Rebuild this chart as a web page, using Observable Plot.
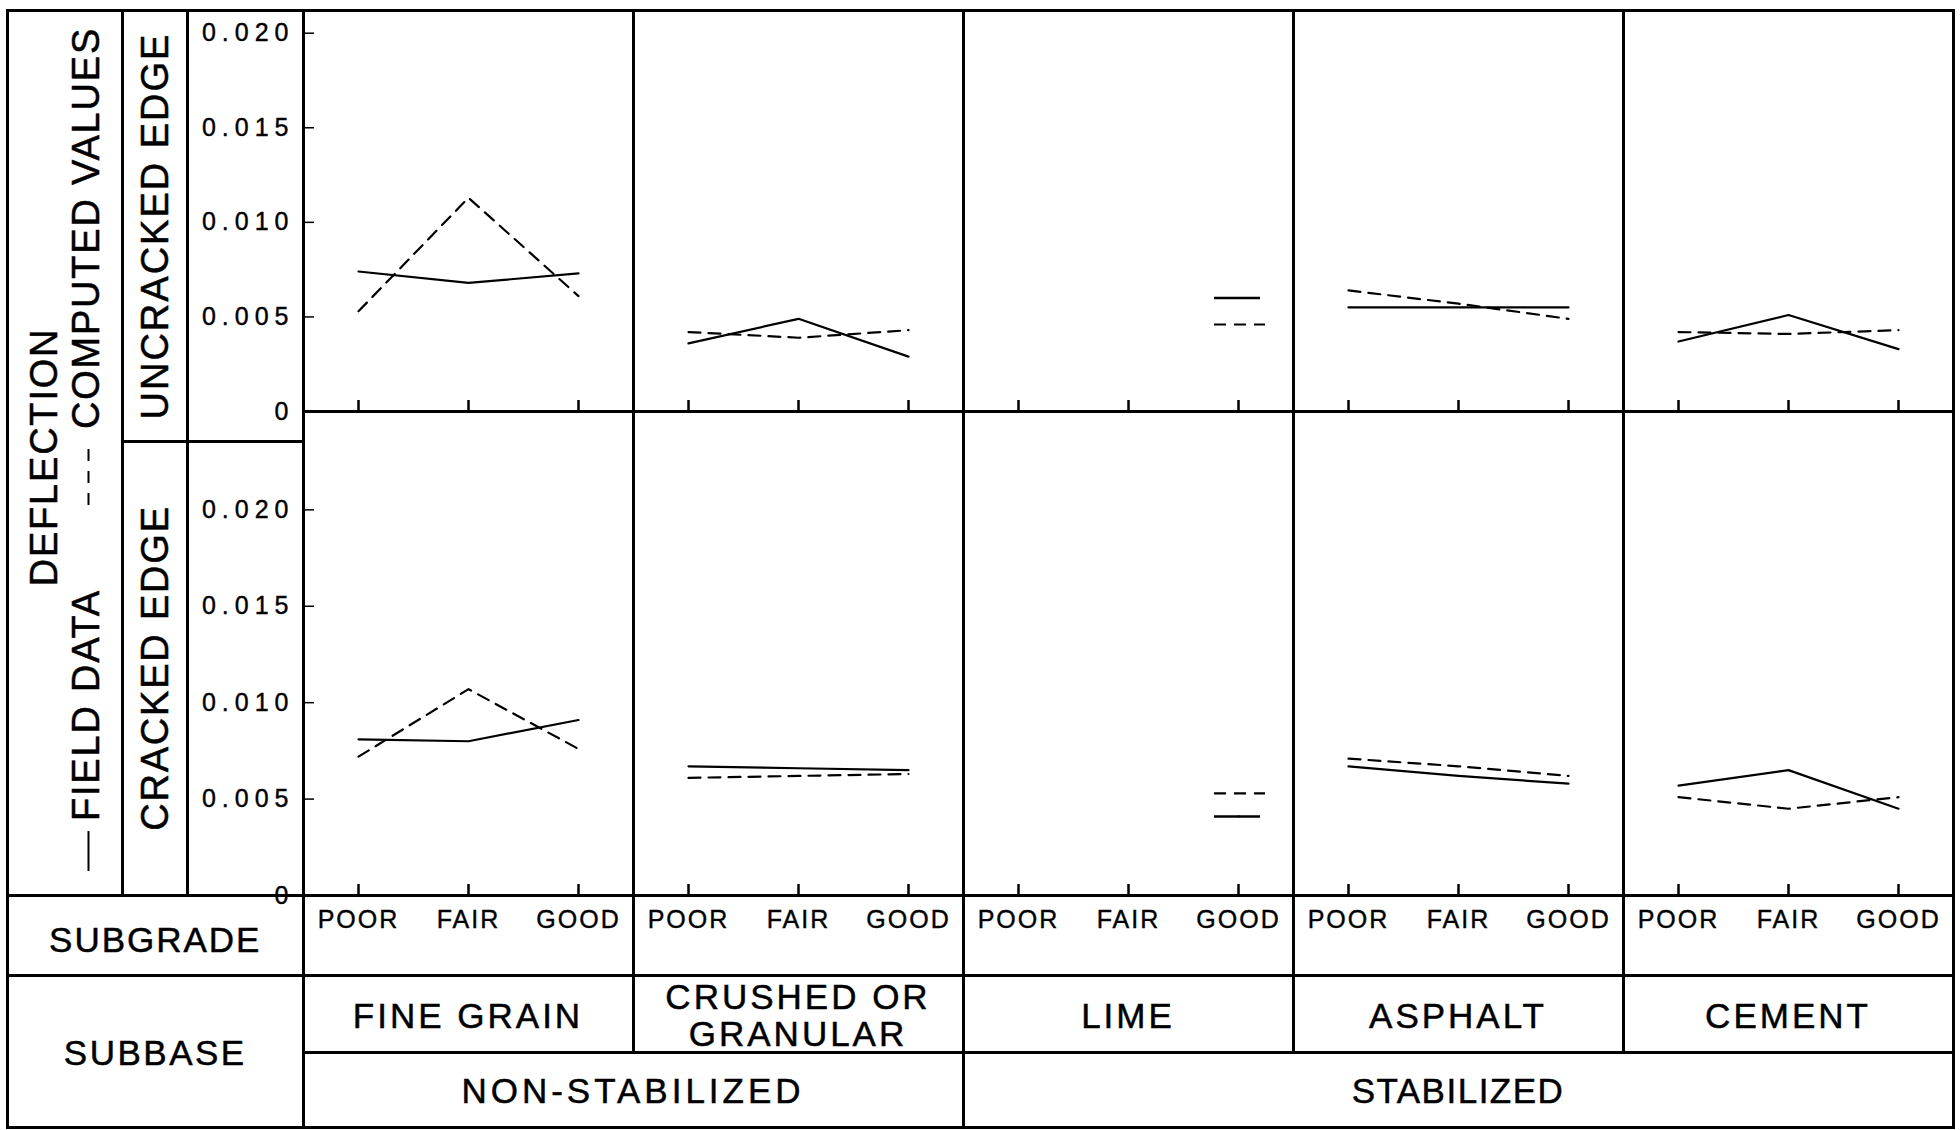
<!DOCTYPE html>
<html>
<head>
<meta charset="utf-8">
<script src="https://cdn.jsdelivr.net/npm/d3@7"></script>
<script src="https://cdn.jsdelivr.net/npm/@observablehq/plot@0.6"></script>
<style>
html, body { margin: 0; padding: 0; background: #fff; }
#root { position: relative; width: 1960px; height: 1130px; overflow: hidden;
  font-family: "Liberation Sans", Arial, sans-serif; color: #000; }
.ln { position: absolute; background: #000; }
.lbl { position: absolute; white-space: nowrap; transform: translate(-50%, -50%);
  font-size: 35px; letter-spacing: 3px; text-align: center; line-height: 37px;
  -webkit-text-stroke: 0.5px #000; }
.rot { transform: translate(-50%, -50%) rotate(-90deg); font-size: 38px; letter-spacing: 1.8px; }
.chart { position: absolute; }
.chart svg { overflow: visible; }
g[aria-label="y-axis tick label"] { letter-spacing: 6px; }
g[aria-label="x-axis tick label"] { letter-spacing: 2px; }
g[aria-label="y-axis tick label"] text, g[aria-label="x-axis tick label"] text { stroke: #000; stroke-width: 0.4px; }
.sw { display: inline-block; vertical-align: middle; height: 2px; }
</style>
</head>
<body>
<div id="root"></div>
<script>
// ---------- data ----------
const subbases = ["FINE GRAIN", "CRUSHED OR GRANULAR", "LIME", "ASPHALT", "CEMENT"];
const subbaseLabels = ["FINE GRAIN", "CRUSHED OR\nGRANULAR", "LIME", "ASPHALT", "CEMENT"];
const grades = ["POOR", "FAIR", "GOOD"];
const groupLabels = ["NON-STABILIZED", "STABILIZED"];
const groupSpans = [2, 3];
const yTicks = [0, 0.005, 0.010, 0.015, 0.020];
const yTickLabels = ["0", "0.005", "0.010", "0.015", "0.020"];

// deflection, uncracked edge (rows: subbase, cols: POOR/FAIR/GOOD)
const uncrackedField    = [[0.0074, 0.0068, 0.0073], [0.0036, 0.0049, 0.0029], [null, null, 0.0060], [0.0055, 0.0055, 0.0055], [0.0037, 0.0051, 0.0033]];
const uncrackedComputed = [[0.0053, 0.0113, 0.0061], [0.0042, 0.0039, 0.0043], [null, null, 0.0046], [0.0064, 0.0057, 0.0049], [0.0042, 0.0041, 0.0043]];
// deflection, cracked edge
const crackedField      = [[0.0081, 0.0080, 0.0091], [0.0067, 0.0066, 0.0065], [null, null, 0.0041], [0.0067, 0.0062, 0.0058], [0.0057, 0.0065, 0.0045]];
const crackedComputed   = [[0.0072, 0.0107, 0.0076], [0.0061, 0.0062, 0.0063], [null, null, 0.0053], [0.0071, 0.0067, 0.0062], [0.0051, 0.0045, 0.0051]];

// ---------- layout helpers ----------
const root = document.getElementById("root");
const T = 3;
function box(x, y, w, h) {
  const d = document.createElement("div");
  d.className = "ln";
  Object.assign(d.style, {left: x + "px", top: y + "px", width: w + "px", height: h + "px"});
  root.appendChild(d);
}
function hline(x1, x2, y) { box(x1 - T / 2, y - T / 2, x2 - x1 + T, T); }
function vline(x, y1, y2) { box(x - T / 2, y1 - T / 2, T, y2 - y1 + T); }
function label(html, cx, cy, cls = "lbl", style = {}) {
  const d = document.createElement("div");
  d.className = cls;
  d.innerHTML = html;
  Object.assign(d.style, {left: cx + "px", top: cy + "px"}, style);
  root.appendChild(d);
  return d;
}

const FONT = '"Liberation Sans", Arial, sans-serif';
const chartLeft = 187, chartWidth = 1767, marginLeft = 115;

function rowsOf(field, computed) {
  const rows = [];
  subbases.forEach((s, i) => grades.forEach((g, j) => {
    rows.push({subbase: s, grade: g, series: "field", value: field[i][j]});
    rows.push({subbase: s, grade: g, series: "computed", value: computed[i][j]});
  }));
  return rows;
}

function panel(field, computed, ymax, plotHeight, top, showLabels) {
  const rows = rowsOf(field, computed);
  const isolated = rows.filter(r => r.value != null &&
    rows.filter(q => q.subbase === r.subbase && q.series === r.series && q.value != null).length === 1);
  const mb = showLabels ? 80 : 2;
  const chart = Plot.plot({
    width: chartWidth,
    height: plotHeight + 2 + mb,
    marginLeft, marginRight: 0, marginTop: 2, marginBottom: mb,
    style: {background: "transparent", fontFamily: FONT, color: "#000", overflow: "visible"},
    fx: {domain: subbases, padding: 0, axis: null},
    x: {domain: grades, padding: 0, axis: null},
    y: {domain: [0, ymax], axis: null},
    marks: [
      Plot.axisY({ticks: yTicks, tickFormat: d => yTickLabels[yTicks.indexOf(d)], label: null,
        tickSize: -11, tickPadding: 20, fontSize: 25, strokeWidth: 1.5}),
      Plot.axisX({tickSize: -11, tickPadding: 26, fontSize: 25, strokeWidth: 2.5, label: null,
        tickFormat: showLabels ? (d => d) : (() => "")}),
      Plot.line(rows.filter(r => r.series === "field"),
        {fx: "subbase", x: "grade", y: "value", stroke: "#000", strokeWidth: 2.2}),
      Plot.line(rows.filter(r => r.series === "computed"),
        {fx: "subbase", x: "grade", y: "value", stroke: "#000", strokeWidth: 2.2, strokeDasharray: "12,8"}),
      Plot.tickY(isolated.filter(r => r.series === "field"),
        {fx: "subbase", x: "grade", y: "value", stroke: "#000", strokeWidth: 2.4, insetLeft: 31, insetRight: 33}),
      Plot.tickY(isolated.filter(r => r.series === "computed"),
        {fx: "subbase", x: "grade", y: "value", stroke: "#000", strokeWidth: 2.2, strokeDasharray: "12,8", insetLeft: 31, insetRight: 28}),
      Plot.frame({stroke: "#000", strokeWidth: 3})
    ]
  });
  const wrap = document.createElement("div");
  wrap.className = "chart";
  Object.assign(wrap.style, {left: chartLeft + "px", top: (top - 2) + "px"});
  wrap.appendChild(chart);
  root.appendChild(wrap);
  return chart;
}

const yTop = 10, yMid = 411, yBot = 895, yRow1 = 975, yRow2 = 1052, yEnd = 1127;
const xL = 7.5, xC1 = 122.5, xC2 = 187.5;

const upper = panel(uncrackedField, uncrackedComputed, 0.0212, yMid - yTop, yTop, false);
const lower = panel(crackedField, crackedComputed, 0.0251, yBot - yMid, yMid, true);

// facet boundaries
const fx = upper.scale("fx");
const bw = fx.bandwidth;
const bounds = subbases.map(s => chartLeft + fx.apply(s));
bounds.push(bounds[bounds.length - 1] + bw);
const xP = bounds[0], xR = bounds[5];

// ---------- table lines ----------
hline(xL, xR, yTop);
vline(xL, yTop, yEnd);
vline(xR, yTop, yEnd);
hline(xL, xR, yEnd);
vline(xC1, yTop, yBot);
vline(xC2, yTop, yBot);
vline(xP, yTop, yEnd);
hline(xC1, xP, 441);
hline(xL, xR, yBot);
hline(xL, xR, yRow1);
hline(xP, xR, yRow2);
for (let k = 1; k < 5; k++) vline(bounds[k], yBot, yRow2);
let acc = 0;
const groupBounds = [bounds[0]];
groupSpans.forEach(n => { acc += n; groupBounds.push(bounds[acc]); });
for (let k = 1; k < groupBounds.length - 1; k++) vline(groupBounds[k], yRow2, yEnd);

// ---------- texts ----------
label("DEFLECTION", 44, 457, "lbl rot");
label('<span class="sw" style="width:40px;background:#000"></span>' +
      '<span style="margin-left:10px">FIELD DATA</span>' +
      '<span class="sw" style="width:66px;margin-left:84px;background:repeating-linear-gradient(90deg,#000 0 12px,transparent 12px 22px)"></span>' +
      '<span style="margin-left:10px">COMPUTED VALUES</span>',
      86, 449, "lbl rot");
label("UNCRACKED EDGE", 155, 226, "lbl rot", {letterSpacing: "2px"});
label("CRACKED EDGE", 155, 668, "lbl rot", {letterSpacing: "1.8px"});
label("SUBGRADE", (xL + xP) / 2, 939, "lbl", {letterSpacing: "2px"});
label("SUBBASE", (xL + xP) / 2, 1052, "lbl", {letterSpacing: "2.5px"});
subbaseLabels.forEach((s, k) => {
  label(s.replace("\n", "<br>"), (bounds[k] + bounds[k + 1]) / 2, 1015, "lbl");
});
groupLabels.forEach((g, k) => {
  label(g, (groupBounds[k] + groupBounds[k + 1]) / 2, 1090, "lbl", {letterSpacing: k === 0 ? "4px" : "1.5px"});
});
</script>
</body>
</html>
